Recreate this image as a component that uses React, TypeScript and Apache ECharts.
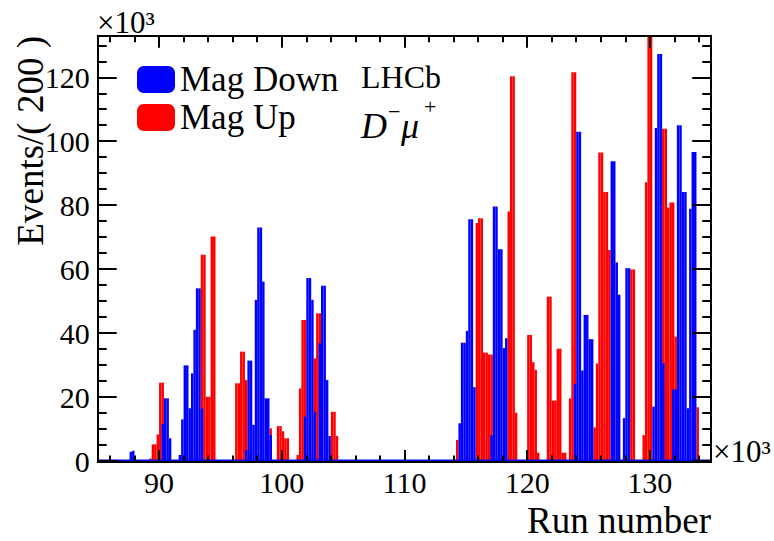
import React, { useEffect, useRef } from "react";
import * as echarts from "echarts";

// ---- data (units: 10^3 runs on x, 10^3 events on y) ----
const BIN_WIDTH = 0.2;
const X_MIN = 85;
const X_MAX = 135;
const Y_MIN = 0;
const Y_MAX = 133;

const X_MAJOR_TICKS = [90, 100, 110, 120, 130];
const X_MINOR_TICKS = [86, 88, 92, 94, 96, 98, 102, 104, 106, 108, 112, 114, 116, 118, 122, 124, 126, 128, 132, 134];
const Y_MAJOR_TICKS = [0, 20, 40, 60, 80, 100, 120];
const Y_MINOR_TICKS = [5, 10, 15, 25, 30, 35, 45, 50, 55, 65, 70, 75, 85, 90, 95, 105, 110, 115, 125, 130];

const SERIES_NAMES = ["Mag Down", "Mag Up"];

// [bin low edge, entries] for Mag Down
const magDownBins: [number, number][] = [
  [87.6, 2.9], [87.8, 3.2],
  [90.2, 11.6], [90.4, 19.6], [90.6, 19.6], [90.8, 7.1],
  [91.6, 1.9], [91.8, 13.0], [92.0, 29.9], [92.2, 29.9], [92.4, 16.5], [92.6, 27.4],
  [92.8, 41.0], [93.0, 54.0], [93.2, 54.0], [93.4, 16.4],
  [97.0, 3.4], [97.2, 31.4], [97.4, 31.4], [97.6, 11.3], [97.8, 50.4], [98.0, 73.0],
  [98.2, 73.0], [98.4, 56.1], [98.6, 19.6], [98.8, 19.6], [99.0, 8.1],
  [101.8, 13.9], [102.0, 57.2], [102.2, 57.2], [102.4, 50.4], [102.6, 15.3],
  [103.0, 36.8], [103.2, 54.8], [103.4, 54.8], [103.6, 25.3], [103.8, 7.8],
  [114.4, 11.8], [114.6, 37.0], [114.8, 37.0], [115.0, 40.7], [115.2, 75.6], [115.4, 75.6],
  [115.6, 23.1],
  [117.0, 8.1], [117.2, 79.6], [117.4, 79.6], [117.6, 66.2], [117.8, 66.2], [118.0, 35.3],
  [118.2, 38.4],
  [123.8, 24.1], [124.0, 103.0], [124.2, 103.0], [124.4, 28.3], [124.6, 45.7], [124.8, 45.7],
  [125.0, 38.1], [125.2, 38.1],
  [126.8, 93.7], [127.0, 93.7], [127.2, 62.1], [127.4, 52.0], [127.8, 13.4], [128.0, 60.3],
  [128.2, 60.3],
  [130.2, 17.0], [130.4, 104.1], [130.6, 127.3], [130.8, 127.3], [131.0, 30.6],
  [131.8, 22.4], [132.0, 22.4], [132.2, 105.0], [132.4, 105.0], [132.6, 84.1], [132.8, 84.1],
  [133.0, 16.5], [133.2, 78.9], [133.4, 96.6], [133.6, 96.6],
];

// [bin low edge, entries] for Mag Up
const magUpBins: [number, number][] = [
  [89.2, 0.8], [89.4, 5.2], [89.6, 5.2], [89.8, 8.3], [90.0, 24.5], [90.2, 24.5],
  [93.4, 64.5], [93.6, 64.5], [93.8, 20.1], [94.0, 20.1], [94.2, 70.2], [94.4, 70.2],
  [96.2, 24.3], [96.4, 24.3], [96.6, 34.2], [96.8, 34.2], [97.0, 25.3],
  [99.0, 10.2], [99.6, 10.9], [99.8, 10.9], [100.0, 9.3], [100.2, 7.1], [100.4, 7.1],
  [101.2, 1.9], [101.4, 22.7], [101.6, 44.1], [101.8, 44.1],
  [102.6, 32.1], [102.8, 46.2], [103.0, 46.2],
  [104.0, 15.4], [104.2, 15.4], [104.4, 7.8],
  [114.2, 6.6],
  [115.8, 74.4], [116.0, 75.9], [116.2, 75.9], [116.4, 33.9], [116.6, 33.9], [116.8, 33.3],
  [117.0, 33.3],
  [118.4, 78.0], [118.6, 120.3], [118.8, 120.3], [119.0, 15.1],
  [120.0, 39.4], [120.2, 39.4], [120.4, 30.9], [120.6, 28.5], [120.8, 2.6],
  [121.6, 51.4], [121.8, 51.4], [122.0, 18.9], [122.2, 18.9], [122.4, 35.1], [122.6, 35.1],
  [122.8, 2.6], [123.0, 2.6],
  [123.4, 19.6], [123.6, 121.6], [123.8, 121.6],
  [125.4, 10.5], [125.6, 30.5], [125.8, 96.5], [126.0, 96.5], [126.2, 84.1], [126.4, 84.1],
  [126.6, 66.0],
  [128.4, 59.9], [128.6, 59.9],
  [129.4, 8.1], [129.6, 87.2], [129.8, 133.5], [130.0, 133.5],
  [131.0, 103.9], [131.2, 103.9], [131.4, 79.3], [131.6, 80.8], [131.8, 80.8], [132.0, 38.9],
  [133.8, 16.8],
];

// empty bins are drawn as the histogram's outline at zero
const zeroLine: [number, number][] = [[X_MIN, 0], [X_MAX, 0]];

const BLUE = "#0000ff";
const RED = "#ff0000";
const FONT = "Liberation Serif";

function makeRender(color: string) {
  return (params: any, api: any) => {
    const lo = api.value(0) as number;
    const v = api.value(1) as number;
    const a = api.coord([lo, 0]);
    const b = api.coord([lo + BIN_WIDTH, v]);
    return {
      type: "rect",
      shape: { x: a[0], y: b[1], width: b[0] - a[0], height: a[1] - b[1] },
      style: { fill: color },
    };
  };
}

function xAxis(grid: number, position: string, ticks: number[], len: number, labels: boolean, offset = 0) {
  return {
    type: "value",
    gridIndex: grid,
    position,
    min: X_MIN,
    max: X_MAX,
    offset,
    z: 5,
    axisLine: { show: grid === 0, onZero: false, lineStyle: { color: "#000", width: 2 } },
    axisTick: { show: true, inside: true, length: len, customValues: ticks, lineStyle: { color: "#000", width: 2 } },
    axisLabel: labels
      ? { show: true, customValues: ticks, color: "#000", fontFamily: FONT, fontSize: 30, margin: 5 }
      : { show: false },
    splitLine: { show: false },
  };
}

function yAxis(grid: number, position: string, ticks: number[], len: number, labels: boolean) {
  return {
    type: "value",
    gridIndex: grid,
    position,
    min: Y_MIN,
    max: Y_MAX,
    z: 5,
    axisLine: { show: grid === 0, onZero: false, lineStyle: { color: "#000", width: 2 } },
    axisTick: { show: true, inside: true, length: len, customValues: ticks, lineStyle: { color: "#000", width: 2 } },
    axisLabel: labels
      ? { show: true, customValues: ticks, color: "#000", fontFamily: FONT, fontSize: 30, margin: 8 }
      : { show: false },
    splitLine: { show: false },
  };
}

export default function App() {
  const ref = useRef<HTMLDivElement>(null);

  useEffect(() => {
    document.body.style.margin = "0";
    if (!ref.current) return;
    const chart = echarts.init(ref.current, undefined, { renderer: "svg" });
    const gridPos = { left: 97.7, top: 35.7, right: 62.8, bottom: 80 };
    chart.setOption({
      animation: false,
      backgroundColor: "#fff",
      grid: [
        { ...gridPos, containLabel: false },
        { ...gridPos, containLabel: false },
      ],
      xAxis: [
        xAxis(0, "bottom", X_MAJOR_TICKS, 12, true, 1),
        xAxis(0, "top", X_MAJOR_TICKS, 12, false),
        xAxis(1, "bottom", X_MINOR_TICKS, 6.5, false, 1),
        xAxis(1, "top", X_MINOR_TICKS, 6.5, false),
      ],
      yAxis: [
        yAxis(0, "left", Y_MAJOR_TICKS, 19, true),
        yAxis(0, "right", Y_MAJOR_TICKS, 19, false),
        yAxis(1, "left", Y_MINOR_TICKS, 9, false),
        yAxis(1, "right", Y_MINOR_TICKS, 9, false),
      ],
      legend: {
        data: SERIES_NAMES,
        orient: "vertical",
        left: 137,
        top: 62,
        padding: 0,
        itemWidth: 38,
        itemHeight: 27,
        itemGap: 3,
        icon: "roundRect",
        textStyle: { fontFamily: FONT, fontSize: 35, color: "#000", lineHeight: 33 },
      },
      series: [
        {
          type: "custom",
          name: SERIES_NAMES[1],
          xAxisIndex: 0,
          yAxisIndex: 0,
          data: magUpBins,
          encode: { x: 0, y: 1 },
          renderItem: makeRender(RED),
          itemStyle: { color: RED },
          clip: true,
          z: 2,
        },
        {
          type: "custom",
          name: SERIES_NAMES[0],
          xAxisIndex: 0,
          yAxisIndex: 0,
          data: magDownBins,
          encode: { x: 0, y: 1 },
          renderItem: makeRender(BLUE),
          itemStyle: { color: BLUE },
          clip: true,
          z: 3,
        },
        {
          type: "line",
          name: "zero",
          xAxisIndex: 0,
          yAxisIndex: 0,
          data: zeroLine,
          symbol: "none",
          silent: true,
          lineStyle: { color: BLUE, width: 3 },
          z: 4,
        },
      ],
      graphic: [
        {
          type: "text",
          x: 30,
          y: 36,
          rotation: Math.PI / 2,
          style: { text: "Events/( 200 )", fontFamily: FONT, fontSize: 37, fill: "#000", align: "right", verticalAlign: "middle" },
        },
        {
          type: "text",
          x: 711,
          y: 520,
          style: { text: "Run number", fontFamily: FONT, fontSize: 37, fill: "#000", align: "right", verticalAlign: "middle" },
        },
        {
          type: "text",
          x: 97,
          y: 22,
          style: { text: "×10³", fontFamily: FONT, fontSize: 31, fill: "#000", align: "left", verticalAlign: "middle" },
        },
        {
          type: "text",
          x: 713,
          y: 451,
          style: { text: "×10³", fontFamily: FONT, fontSize: 31, fill: "#000", align: "left", verticalAlign: "middle" },
        },
        {
          type: "text",
          x: 361,
          y: 77,
          style: { text: "LHCb", fontFamily: FONT, fontSize: 32, lineHeight: 30, fill: "#000", align: "left", verticalAlign: "middle" },
        },
        {
          type: "text",
          x: 361,
          y: 126,
          style: { text: "D", fontFamily: FONT, fontStyle: "italic", fontSize: 36, lineHeight: 34, fill: "#000", align: "left", verticalAlign: "middle" },
        },
        {
          type: "text",
          x: 388,
          y: 111,
          style: { text: "−", fontFamily: FONT, fontSize: 22, lineHeight: 20, fill: "#000", align: "left", verticalAlign: "middle" },
        },
        {
          type: "text",
          x: 401,
          y: 126,
          style: { text: "μ", fontFamily: FONT, fontStyle: "italic", fontSize: 36, lineHeight: 34, fill: "#000", align: "left", verticalAlign: "middle" },
        },
        {
          type: "text",
          x: 424,
          y: 106,
          style: { text: "+", fontFamily: FONT, fontSize: 22, lineHeight: 18, fill: "#000", align: "left", verticalAlign: "middle" },
        },
      ],
    });
    return () => chart.dispose();
  }, []);

  return <div ref={ref} style={{ width: 774, height: 541 }} />;
}
